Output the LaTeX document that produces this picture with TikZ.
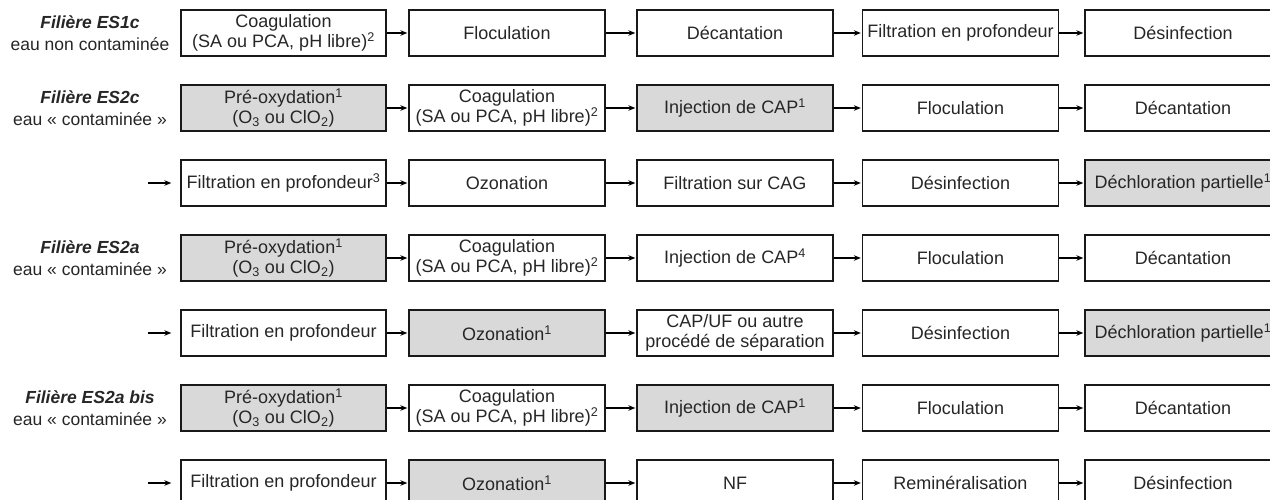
\documentclass[tikz,border=0pt]{standalone}
\usepackage{fontspec}
\setmainfont{Liberation Sans}
\usetikzlibrary{arrows.meta}

\begin{document}
\begin{tikzpicture}[
	x=1pt,y=-1pt,
	box/.style={draw=black!90, line width=1.3pt, minimum width=#1, minimum height=46pt,
		inner sep=1pt, align=center, text=black!85, font=\fontsize{18}{20.5}\selectfont},
	box/.default=196pt,
	shaded/.style={box=#1, fill=black!15},
	shaded/.default=196pt,
	flow/.style={-{Stealth[length=7pt,width=5.5pt]}, line width=1.3pt, shorten >=1pt},
	filiere/.style={align=center, text=black!85, font=\fontsize{17.5}{22}\selectfont}]
\useasboundingbox (0,0) rectangle (1270,499);

\node[filiere] (f1) at (90,33) {\textbf{\textit{Filière ES1c}}\\eau non contaminée};
\node[box=205pt] (r1c1) at (283.5,33) {Coagulation\\(SA ou PCA, pH libre)\textsuperscript{2}};
\node[box] (r1c2) at (507,33) {Floculation};
\node[box] (r1c3) at (735,33) {Décantation};
\node[box] (r1c4) at (960.5,33) {Filtration en profondeur};
\node[box] (r1c5) at (1183,33) {Désinfection};

\node[filiere] (f2) at (90,108) {\textbf{\textit{Filière ES2c}}\\eau «~contaminée~»};
\node[shaded=205pt] (r2c1) at (283.5,108) {Pré-oxydation\textsuperscript{1}\\(O\textsubscript{3} ou ClO\textsubscript{2})};
\node[box] (r2c2) at (507,108) {Coagulation\\(SA ou PCA, pH libre)\textsuperscript{2}};
\node[shaded] (r2c3) at (735,108) {Injection de CAP\textsuperscript{1}};
\node[box] (r2c4) at (960.5,108) {Floculation};
\node[box] (r2c5) at (1183,108) {Décantation};

\coordinate (in3) at (148,183);
\node[box=205pt] (r3c1) at (283.5,183) {Filtration en profondeur\textsuperscript{3}};
\node[box] (r3c2) at (507,183) {Ozonation};
\node[box] (r3c3) at (735,183) {Filtration sur CAG};
\node[box] (r3c4) at (960.5,183) {Désinfection};
\node[shaded] (r3c5) at (1183,183) {Déchloration partielle\textsuperscript{1}};

\node[filiere] (f4) at (90,258) {\textbf{\textit{Filière ES2a}}\\eau «~contaminée~»};
\node[shaded=205pt] (r4c1) at (283.5,258) {Pré-oxydation\textsuperscript{1}\\(O\textsubscript{3} ou ClO\textsubscript{2})};
\node[box] (r4c2) at (507,258) {Coagulation\\(SA ou PCA, pH libre)\textsuperscript{2}};
\node[box] (r4c3) at (735,258) {Injection de CAP\textsuperscript{4}};
\node[box] (r4c4) at (960.5,258) {Floculation};
\node[box] (r4c5) at (1183,258) {Décantation};

\coordinate (in5) at (148,333);
\node[box=205pt] (r5c1) at (283.5,333) {Filtration en profondeur};
\node[shaded] (r5c2) at (507,333) {Ozonation\textsuperscript{1}};
\node[box] (r5c3) at (735,333) {CAP/UF ou autre\\procédé de séparation};
\node[box] (r5c4) at (960.5,333) {Désinfection};
\node[shaded] (r5c5) at (1183,333) {Déchloration partielle\textsuperscript{1}};

\node[filiere] (f6) at (90,408) {\textbf{\textit{Filière ES2a bis}}\\eau «~contaminée~»};
\node[shaded=205pt] (r6c1) at (283.5,408) {Pré-oxydation\textsuperscript{1}\\(O\textsubscript{3} ou ClO\textsubscript{2})};
\node[box] (r6c2) at (507,408) {Coagulation\\(SA ou PCA, pH libre)\textsuperscript{2}};
\node[shaded] (r6c3) at (735,408) {Injection de CAP\textsuperscript{1}};
\node[box] (r6c4) at (960.5,408) {Floculation};
\node[box] (r6c5) at (1183,408) {Décantation};

\coordinate (in7) at (148,483);
\node[box=205pt] (r7c1) at (283.5,483) {Filtration en profondeur};
\node[shaded] (r7c2) at (507,483) {Ozonation\textsuperscript{1}};
\node[box] (r7c3) at (735,483) {NF};
\node[box] (r7c4) at (960.5,483) {Reminéralisation};
\node[box] (r7c5) at (1183,483) {Désinfection};

\foreach \r in {1,...,7}
	\foreach \c/\d in {1/2,2/3,3/4,4/5}
		\draw[flow] (r\r c\c) -- (r\r c\d);
\foreach \r in {3,5,7}
	\draw[flow, shorten >=9pt] (in\r) -- (r\r c1);
\end{tikzpicture}
\end{document}
